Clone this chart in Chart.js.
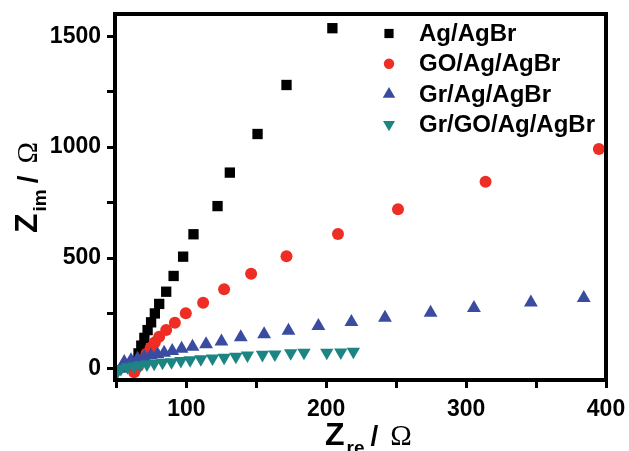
<!DOCTYPE html>
<html>
<head>
<meta charset="utf-8">
<script src="https://cdn.jsdelivr.net/npm/chart.js@4.4.1/dist/chart.umd.min.js"></script>
<style>
  html, body { margin: 0; padding: 0; background: #fff; }
  #wrap { width: 629px; height: 451px; }
</style>
</head>
<body>
<div id="wrap"><canvas id="grafico" width="629" height="451"></canvas></div>
<script>
// Nyquist data, Z' (re) and -Z'' (im) in ohm
const series = ['Ag/AgBr', 'GO/Ag/AgBr', 'Gr/Ag/AgBr', 'Gr/GO/Ag/AgBr'];

const agX = [62.5, 64.0, 65.8, 67.8, 70.0, 72.3, 74.8, 77.5, 80.6, 85.6, 90.9, 97.7, 105.1, 122.3, 131.1, 150.9, 171.6, 204.4];
const agY = [5, 35, 70, 105, 140, 175, 210, 250, 293, 348, 419, 506, 607, 734, 885, 1059, 1280, 1536];

const goX = [62.7, 65.5, 68.5, 71.5, 74.5, 77.5, 80.6, 85.6, 91.8, 99.6, 112, 127, 146.3, 171.6, 208.4, 251.3, 313.9, 394.9];
const goY = [-15, 12, 40, 68, 95, 120, 145, 175, 208, 251, 298, 359, 429, 508, 608, 720, 844, 991];

const grX = [53.2, 55.6, 60.4, 65.1, 69.9, 74.6, 79.4, 84.1, 89.9, 96.6, 104.4, 114.1, 125.1, 138.9, 155.6, 173, 194.4, 218, 242, 274.6, 305.6, 346.3, 384.1];
const grY = [1, 31, 39, 46, 54, 61, 66, 73, 81, 91, 100, 111, 124, 143, 156, 172, 193, 211, 231, 253, 275, 299, 320];

const ggX = [50.8, 53.2, 58, 62.7, 67, 71.8, 77, 83, 89.4, 96.1, 102.7, 110.4, 118.7, 127, 135.4, 143.7, 154.4, 163.3, 174.6, 184.1, 200.4, 210.4, 219.4];
const ggY = [-12, 0, 8, 12, 17, 21, 24, 29, 31, 36, 40, 44, 48, 51, 56, 61, 64, 66, 71, 74, 74, 75, 78];

const xTicks = [50, 100, 150, 200, 250, 300, 350, 400];
const xLabels = [100, 200, 300, 400];
const yTicks = [0, 250, 500, 750, 1000, 1250, 1500];
const yLabels = [0, 500, 1000, 1500];

const cores = ['#000000', '#ee2d24', '#3a4ca0', '#1c8583'];
const estilos = [
  { pointStyle: 'rect', radius: 7.3, rotation: 0 },
  { pointStyle: 'circle', radius: 6, rotation: 0 },
  { pointStyle: 'triangle', radius: 8, rotation: 0 },
  { pointStyle: 'triangle', radius: 7.7, rotation: 180 }
];

const pares = (xs, ys) => xs.map((x, i) => ({ x: x, y: ys[i] }));
const dados = [pares(agX, agY), pares(goX, goY), pares(grX, grY), pares(ggX, ggY)];

const sans = '"Liberation Sans", Arial, sans-serif';
const serif = '"Liberation Serif", "Times New Roman", serif';

// Z with subscript, then " / Ω"
function tituloEixo(ctx, sub) {
  let x = 0;
  ctx.textBaseline = 'alphabetic';
  ctx.textAlign = 'left';
  ctx.font = 'bold 32px ' + sans;
  ctx.fillText('Z', x, 0);
  x += ctx.measureText('Z').width + 2;
  ctx.font = 'bold 19px ' + sans;
  ctx.fillText(sub, x, 9);
  x += ctx.measureText(sub).width + 6;
  ctx.font = 'bold 28px ' + sans;
  ctx.fillText('/', x, 0);
  x += ctx.measureText('/').width + 12;
  ctx.font = '29px ' + serif;
  ctx.fillText('\u03A9', x, 0);
}

// keep the plot box where the layout padding puts it
function semFolga(s) {
  s.paddingTop = 0;
  s.paddingBottom = 0;
  s.paddingLeft = 0;
  s.paddingRight = 0;
}

const moldura = {
  id: 'moldura',
  afterDatasetsDraw(chart) {
    const { ctx, chartArea: a } = chart;
    ctx.save();
    ctx.strokeStyle = '#000';
    ctx.lineWidth = 4;
    ctx.strokeRect(a.left, a.top, a.right - a.left, a.bottom - a.top);
    ctx.restore();
  },
  afterDraw(chart) {
    const ctx = chart.ctx;
    ctx.save();
    ctx.fillStyle = '#000';
    ctx.translate(325, 445);
    tituloEixo(ctx, 're');
    ctx.restore();

    ctx.save();
    ctx.fillStyle = '#000';
    ctx.translate(37, 233);
    ctx.rotate(-Math.PI / 2);
    tituloEixo(ctx, 'im');
    ctx.restore();

    // legend
    ctx.save();
    series.forEach((nome, i) => {
      const y = 33.5 + 30.3 * i;
      ctx.fillStyle = cores[i];
      Chart.helpers.drawPoint(ctx, {
        pointStyle: estilos[i].pointStyle,
        radius: estilos[i].radius - 0.8,
        rotation: estilos[i].rotation,
        borderWidth: 0
      }, 389, y);
      ctx.fillStyle = '#000';
      ctx.font = 'bold 24px ' + sans;
      ctx.textBaseline = 'middle';
      ctx.textAlign = 'left';
      ctx.fillText(nome, 419, y + 1);
    });
    ctx.restore();
  }
};

new Chart(document.getElementById('grafico'), {
  type: 'scatter',
  data: {
    datasets: series.map((nome, i) => ({
      label: nome,
      data: dados[i],
      backgroundColor: cores[i],
      borderWidth: 0,
      pointStyle: estilos[i].pointStyle,
      pointRadius: estilos[i].radius,
      pointRotation: estilos[i].rotation,
      order: 4 - i
    }))
  },
  options: {
    responsive: false,
    animation: false,
    layout: { autoPadding: false, padding: { top: 14, right: 23, left: 0, bottom: 0 } },
    plugins: {
      legend: { display: false },
      tooltip: { enabled: false }
    },
    scales: {
      x: {
        type: 'linear',
        min: 49,
        max: 400,
        afterBuildTicks: s => { s.ticks = xTicks.map(v => ({ value: v })); },
        afterFit: s => { s.height = 71; semFolga(s); },
        border: { display: false },
        grid: { drawOnChartArea: false, drawTicks: true, tickLength: 8, tickWidth: 3, tickColor: '#000' },
        ticks: {
          autoSkip: false,
          maxRotation: 0,
          padding: 8,
          color: '#000',
          font: { family: sans, size: 23, weight: 'bold' },
          callback: v => xLabels.includes(v) ? String(v) : ''
        }
      },
      y: {
        type: 'linear',
        min: -50,
        max: 1600,
        afterBuildTicks: s => { s.ticks = yTicks.map(v => ({ value: v })); },
        afterFit: s => { s.width = 115; semFolga(s); },
        border: { display: false },
        grid: { drawOnChartArea: false, drawTicks: true, tickLength: 8, tickWidth: 3, tickColor: '#000' },
        ticks: {
          autoSkip: false,
          padding: 6,
          color: '#000',
          font: { family: sans, size: 23, weight: 'bold' },
          callback: v => yLabels.includes(v) ? String(v) : ''
        }
      }
    }
  },
  plugins: [moldura]
});
</script>
</body>
</html>
